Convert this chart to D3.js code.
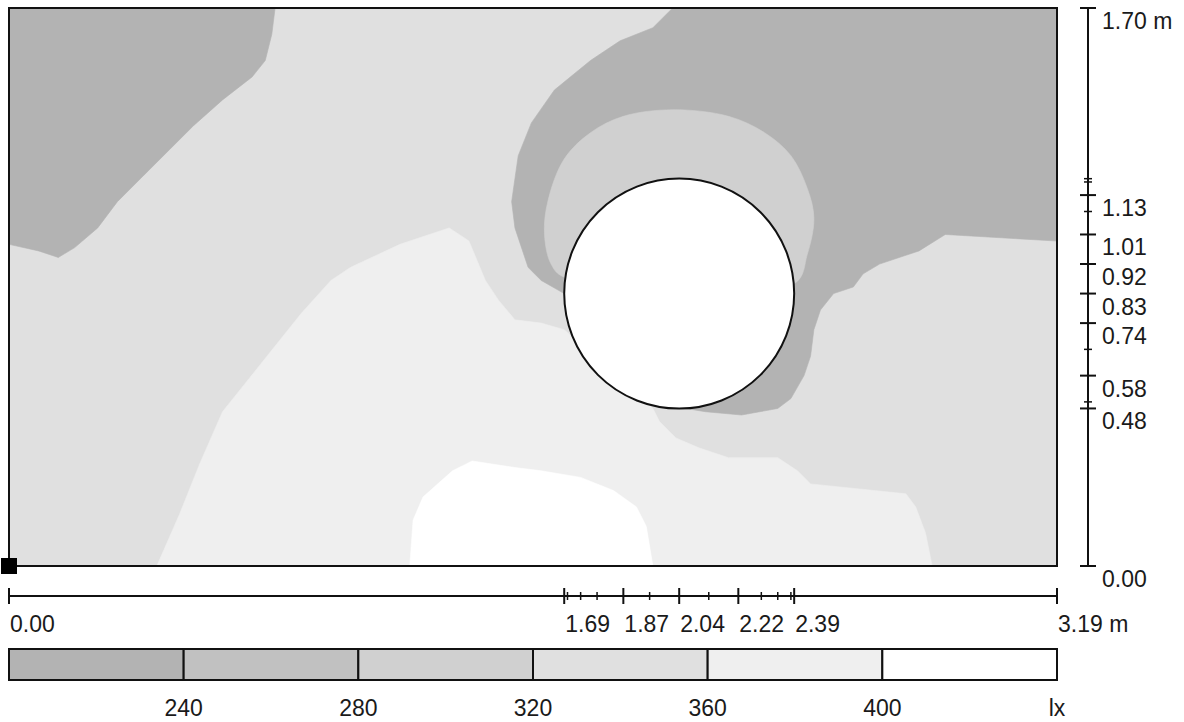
<!DOCTYPE html>
<html>
<head>
<meta charset="utf-8">
<script src="https://cdn.jsdelivr.net/npm/d3@7"></script>
<style>
  html, body { margin: 0; padding: 0; background: #ffffff; }
  svg { display: block; }
  text { font-family: "Liberation Sans", Arial, Helvetica, sans-serif; font-size: 23px; fill: #1a1a1a; }
</style>
</head>
<body>
<svg id="chart" width="1184" height="722"></svg>
<script>
// ---------- DATA ----------
const roomWidth = 3.19;   // m
const roomDepth = 1.70;   // m

// illuminance classes (lx)
const levelBreaks = [240, 280, 320, 360, 400];
const levelUnit = "lx";
const bandColors = ["#b3b3b3", "#c1c1c1", "#d0d0d0", "#e0e0e0", "#efefef", "#ffffff"];

// obstacle (circle) in metres
const obstacle = { cx: 2.04, cy: 0.83, r: 0.35 };

// x axis ticks (m)
const xMajorTicks = [0, 1.69, 1.87, 2.04, 2.22, 2.39, 3.19];
const xTickLabels = ["0.00", "1.69", "1.87", "2.04", "2.22", "2.39", "3.19 m"];
const xMinorTicks = [1.70, 1.74, 1.79, 1.95, 2.13, 2.29, 2.34, 2.38];

// y axis ticks (m)
const yMajorTicks = [0, 0.48, 0.58, 0.74, 0.83, 0.92, 1.01, 1.13, 1.70];
const yTickLabels = ["0.00", "0.48", "0.58", "0.74", "0.83", "0.92", "1.01", "1.13", "1.70 m"];
const yMinorTicks = [0.50, 0.66, 1.08, 1.17, 1.18];

// contour regions, boundaries in metres [x, y]; band = index into bandColors
const region360to400 = [
  [0.45, 0], [0.52, 0.16], [0.58, 0.31], [0.65, 0.47], [0.77, 0.62], [0.89, 0.77],
  [0.98, 0.87], [1.04, 0.91], [1.19, 0.98], [1.34, 1.03], [1.40, 0.99], [1.45, 0.87],
  [1.49, 0.81], [1.54, 0.75], [1.62, 0.74], [1.69, 0.72], [1.96, 0.48], [1.98, 0.44],
  [2.03, 0.39], [2.10, 0.36], [2.19, 0.33], [2.34, 0.33], [2.40, 0.29], [2.44, 0.25],
  [2.73, 0.22], [2.76, 0.18], [2.79, 0.10], [2.81, 0]
];
const regionAbove400 = [
  [1.22, 0], [1.23, 0.14], [1.26, 0.21], [1.35, 0.29], [1.41, 0.32], [1.54, 0.30],
  [1.62, 0.29], [1.74, 0.27], [1.84, 0.23], [1.91, 0.18], [1.94, 0.12], [1.96, 0]
];
const regionBelow240Left = [
  [0, 1.70], [0.81, 1.70], [0.80, 1.62], [0.78, 1.54], [0.74, 1.49], [0.65, 1.42],
  [0.56, 1.34], [0.49, 1.27], [0.40, 1.18], [0.33, 1.11], [0.27, 1.03], [0.20, 0.97],
  [0.15, 0.94], [0.09, 0.96], [0, 0.98]
];
const regionBelow240Right = [
  [2.02, 1.70], [3.19, 1.70], [3.19, 0.99], [2.85, 1.01], [2.77, 0.96], [2.65, 0.92],
  [2.60, 0.89], [2.57, 0.85], [2.51, 0.83], [2.47, 0.78], [2.45, 0.72], [2.44, 0.64],
  [2.42, 0.58], [2.38, 0.51], [2.34, 0.48], [2.23, 0.46], [2.12, 0.47], [2.06, 0.48],
  [1.69, 0.83], [1.62, 0.87], [1.58, 0.91], [1.54, 1.03], [1.53, 1.11], [1.55, 1.25],
  [1.59, 1.35], [1.66, 1.45], [1.77, 1.54], [1.86, 1.60], [1.96, 1.64]
];
const region280to320 = [
  [1.69, 0.88], [1.65, 0.92], [1.63, 1.01], [1.64, 1.11], [1.69, 1.24], [1.77, 1.32],
  [1.87, 1.37], [2.02, 1.39], [2.19, 1.37], [2.30, 1.32], [2.38, 1.25], [2.43, 1.15],
  [2.45, 1.06], [2.43, 0.95], [2.39, 0.86]
];
const baseBand = 3;
const regions = [
  { pts: region360to400, band: 4, smooth: false },
  { pts: regionAbove400, band: 5, smooth: false },
  { pts: regionBelow240Left, band: 0, smooth: false },
  { pts: regionBelow240Right, band: 0, smooth: false },
  { pts: region280to320, band: 2, smooth: true }
];

// ---------- DRAW ----------
const svg = d3.select("#chart");
const x = d3.scaleLinear().domain([0, roomWidth]).range([9, 1057]);
const y = d3.scaleLinear().domain([0, roomDepth]).range([566, 8]);

const defs = svg.append("defs");
defs.append("clipPath").attr("id", "plotClip")
  .append("rect")
  .attr("x", x(0)).attr("y", y(roomDepth))
  .attr("width", x(roomWidth) - x(0)).attr("height", y(0) - y(roomDepth));

const plot = svg.append("g").attr("clip-path", "url(#plotClip)");
plot.append("rect")
  .attr("x", x(0)).attr("y", y(roomDepth))
  .attr("width", x(roomWidth) - x(0)).attr("height", y(0) - y(roomDepth))
  .attr("fill", bandColors[baseBand]);

const areaLin = d3.line().x(d => x(d[0])).y(d => y(d[1])).curve(d3.curveLinearClosed);
const areaSmooth = d3.line().x(d => x(d[0])).y(d => y(d[1])).curve(d3.curveCatmullRomClosed.alpha(0.5));
plot.selectAll("path.region").data(regions).join("path")
  .attr("class", "region")
  .attr("d", d => (d.smooth ? areaSmooth : areaLin)(d.pts))
  .attr("fill", d => bandColors[d.band])
  .attr("stroke", d => bandColors[d.band])
  .attr("stroke-width", 0.6);

// obstacle
svg.append("circle")
  .attr("cx", x(obstacle.cx)).attr("cy", y(obstacle.cy))
  .attr("r", x(obstacle.cx + obstacle.r) - x(obstacle.cx))
  .attr("fill", "#ffffff").attr("stroke", "#111").attr("stroke-width", 2);

// plot frame
svg.append("rect")
  .attr("x", x(0)).attr("y", y(roomDepth))
  .attr("width", x(roomWidth) - x(0)).attr("height", y(0) - y(roomDepth))
  .attr("fill", "none").attr("stroke", "#111").attr("stroke-width", 2);

// origin marker
svg.append("rect")
  .attr("x", x(0) - 8).attr("y", y(0) - 8).attr("width", 16).attr("height", 16)
  .attr("fill", "#000");

// ---- bottom dimension axis ----
const axY = 596;
const gx = svg.append("g");
gx.append("line").attr("x1", x(0)).attr("x2", x(roomWidth)).attr("y1", axY).attr("y2", axY)
  .attr("stroke", "#111").attr("stroke-width", 2);
gx.selectAll("line.maj").data(xMajorTicks).join("line").attr("class", "maj")
  .attr("x1", d => x(d)).attr("x2", d => x(d)).attr("y1", axY - 8).attr("y2", axY + 8)
  .attr("stroke", "#111").attr("stroke-width", 2);
gx.selectAll("line.min").data(xMinorTicks).join("line").attr("class", "min")
  .attr("x1", d => x(d)).attr("x2", d => x(d)).attr("y1", axY - 4).attr("y2", axY + 4)
  .attr("stroke", "#111").attr("stroke-width", 1.5);
gx.selectAll("text").data(xMajorTicks).join("text")
  .attr("x", d => x(d) + 1).attr("y", axY + 36)
  .attr("text-anchor", "start")
  .text((d, i) => xTickLabels[i]);

// ---- right dimension axis ----
const axX = 1088;
const gy = svg.append("g");
gy.append("line").attr("x1", axX).attr("x2", axX).attr("y1", y(roomDepth)).attr("y2", y(0))
  .attr("stroke", "#111").attr("stroke-width", 2);
gy.selectAll("line.maj").data(yMajorTicks).join("line").attr("class", "maj")
  .attr("x1", axX - 8).attr("x2", axX + 8).attr("y1", d => y(d)).attr("y2", d => y(d))
  .attr("stroke", "#111").attr("stroke-width", 2);
gy.selectAll("line.min").data(yMinorTicks).join("line").attr("class", "min")
  .attr("x1", axX - 4).attr("x2", axX + 4).attr("y1", d => y(d)).attr("y2", d => y(d))
  .attr("stroke", "#111").attr("stroke-width", 1.5);
gy.selectAll("text").data(yMajorTicks).join("text")
  .attr("x", axX + 14).attr("y", d => y(d) + 21)
  .attr("text-anchor", "start")
  .text((d, i) => yTickLabels[i]);

// ---- legend ----
const legTop = 649, legH = 31;
const lx = d3.scaleLinear().domain([0, bandColors.length]).range([x(0), x(roomWidth)]);
const gl = svg.append("g");
gl.selectAll("rect").data(bandColors).join("rect")
  .attr("x", (d, i) => lx(i)).attr("y", legTop)
  .attr("width", (d, i) => lx(i + 1) - lx(i)).attr("height", legH)
  .attr("fill", d => d).attr("stroke", "#111").attr("stroke-width", 2);
gl.selectAll("text.lev").data(levelBreaks).join("text").attr("class", "lev")
  .attr("x", (d, i) => lx(i + 1)).attr("y", 716)
  .attr("text-anchor", "middle")
  .text(d => d);
gl.append("text").attr("x", lx(bandColors.length)).attr("y", 716)
  .attr("text-anchor", "middle").text(levelUnit);
</script>
</body>
</html>
